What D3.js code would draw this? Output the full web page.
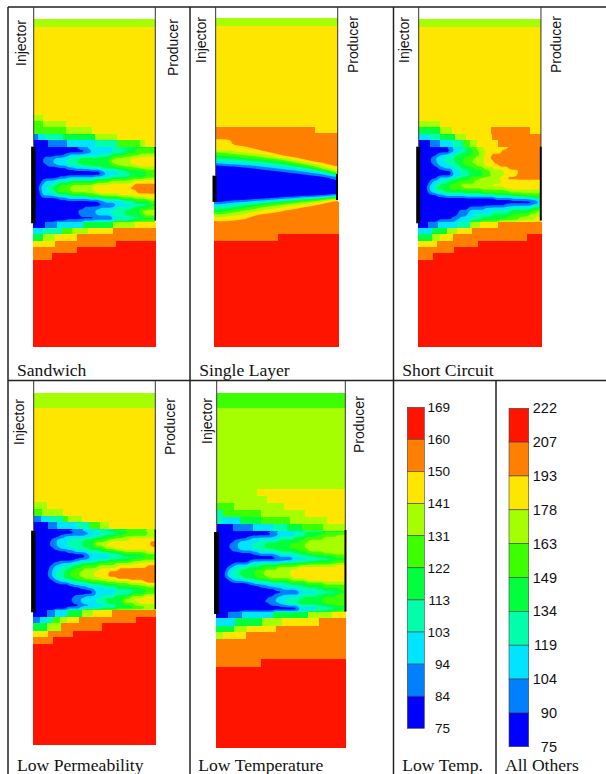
<!DOCTYPE html>
<html>
<head>
<meta charset="utf-8">
<title>Temperature maps</title>
<script src="https://cdn.jsdelivr.net/npm/d3@7/dist/d3.min.js"></script>
<style>
body {margin: 0; background: #fff;}
svg {display: block;}
.caption {font-family: "Liberation Serif", serif; font-size: 17.6px; fill: #111;}
.well-name {font-family: "Liberation Sans", sans-serif; font-size: 14px; fill: #111;}
.tick text {font-family: "Liberation Sans", sans-serif; fill: #111;}
</style>
</head>
<body>
<svg id="canvas" width="606" height="774"></svg>
<script>
// colour band index: 0 is coldest, 9 is hottest
var band_colors = ['#0000ff', '#0080ff', '#00e5ff', '#00ffaa', '#00ff3c', '#3cff00', '#a5ff00', '#ffe600', '#ff8000', '#ff1400'];
var low_temp_ticks = ['169', '160', '150', '141', '131', '122', '113', '103', '94', '84', '75'];
var all_others_ticks = ['222', '207', '193', '178', '163', '149', '134', '119', '104', '90', '75'];

// rows: "depth band endDistance band endDistance ..."
var sandwich_rows = [
    '58 6 469', '80 7 469',
    '345 6 130 7 469',
    '362 5 130 6 198 7 469',
    '382 5 130 5 198 6 275 7 469',
    '402 1 115 2 135 3 190 4 285 6 350 7 469',
    '420 0 145 1 200 2 285 3 350 5 420 6 435 7 469',
    '440 0 235 1 265 2 345 3 395 4 469',
    '450 0 255 1 275 2 335 3 375 4 405 5 469',
    '460 0 190 1 205 2 300 3 335 4 370 5 420 6 469',
    '470 0 130 1 165 2 205 3 240 4 325 5 345 6 395 7 469',
    '480 0 128 1 158 2 195 3 230 4 330 6 390 7 469',
    '490 0 140 1 170 2 205 3 245 4 335 5 350 6 400 7 469',
    '500 0 200 1 225 2 270 3 305 4 370 5 415 6 469',
    '510 0 300 1 315 2 350 3 380 4 435 5 469',
    '520 0 305 1 320 2 385 3 435 4 469',
    '530 0 175 1 200 2 280 3 335 4 380 5 430 6 469',
    '540 0 125 1 135 2 165 3 210 4 290 5 330 6 400 7 469',
    '550 0 118 1 125 2 148 3 175 5 215 6 280 7 400 8 469',
    '560 0 115 1 122 2 135 3 158 5 205 6 275 7 388 8 469',
    '570 0 118 1 126 2 145 3 170 5 215 6 285 7 410 8 469',
    '580 0 125 2 165 3 205 4 260 5 300 6 360 7 469',
    '590 0 175 1 200 2 265 3 310 4 360 5 400 6 440 7 469',
    '600 0 295 1 315 2 370 3 405 4 445 5 469',
    '610 0 340 1 350 2 405 3 445 4 469',
    '620 0 250 1 300 2 345 3 395 4 440 5 469',
    '630 0 232 1 285 2 330 3 370 4 420 6 469',
    '640 0 240 1 290 2 335 3 380 4 430 6 469',
    '650 0 335 1 342 2 390 3 425 4 469',
    '660 0 200 1 280 2 340 3 400 4 469',
    '665 0 135 1 170 2 250 4 340 6 405 7 469',
    '684 2 130 3 185 5 215 6 265 7 340 8 469',
    '703 4 130 6 165 7 230 8 469',
    '722 7 165 8 348 9 469',
    '741 8 230 9 469',
    '760 8 155 9 469',
    '780 9 469'
];

var single_layer_rows = [
    '55 6 446', '78 7 446',
    '380 8 375 7 446',
    '398 8 446',
    '607 8 446',
    '703 8 263 9 446',
    '722 9 446'
];

// this one runs nearly level, so it is read column by column: "endDistance band endDepth ..."
var single_layer_columns = [
    '100 7 450 6 458 5 466 4 475 3 483 2 490 1 497 0 606 1 612 2 620 3 628 4 636 5 643 6 652 7 663',
    '125 7 452 6 460 5 468 4 477 3 485 2 492 1 499 0 604 1 610 2 617 3 624 4 632 5 640 6 650 7 664',
    '150 8 437 7 453 6 462 5 470 4 478 3 486 2 493 1 500 0 602 1 608 2 614 3 621 4 629 5 637 6 647 7 662',
    '175 8 440 7 456 6 465 5 472 4 480 3 488 2 495 1 502 0 600 1 606 2 611 3 617 4 624 5 632 6 642 7 658',
    '200 8 446 7 459 6 468 5 475 4 483 3 490 2 497 1 505 0 598 1 603 2 608 3 613 4 619 5 627 6 636 7 648',
    '225 8 452 7 463 6 471 5 478 4 485 3 492 2 500 1 508 0 597 1 601 2 606 3 610 4 615 5 623 6 632 7 644',
    '250 8 458 7 467 6 474 5 481 4 488 3 495 2 503 1 510 0 596 1 600 2 604 3 608 4 612 5 620 6 629 7 640',
    '275 8 463 7 471 6 478 5 484 4 491 3 498 2 505 1 513 0 595 1 598 2 602 3 605 4 609 5 616 6 625 7 636',
    '300 8 468 7 475 6 482 5 488 4 494 3 501 2 508 1 516 0 593 1 596 2 600 3 603 4 606 5 612 6 620 7 631',
    '325 8 473 7 480 6 487 5 492 4 498 3 504 2 511 1 519 0 592 1 595 2 598 3 601 4 604 5 610 6 617 7 627',
    '350 8 478 7 485 6 492 5 497 4 502 3 508 2 515 1 523 0 590 1 593 2 596 3 599 4 602 5 607 6 613 7 623',
    '375 8 483 7 491 6 498 5 502 4 506 3 512 2 518 1 526 0 589 1 592 2 595 3 597 4 600 5 604 6 610 7 618',
    '400 8 488 7 497 6 504 5 508 4 511 3 516 2 521 1 529 0 588 1 590 2 593 3 595 4 598 5 601 6 606 7 613',
    '425 8 493 7 505 6 511 5 514 4 517 3 520 2 525 1 532 0 586 1 588 2 591 3 593 4 595 5 598 6 601 7 607',
    '446 8 498 7 515 6 519 5 522 4 524 3 526 2 530 1 540 0 584 1 586 2 588 3 590 4 592 5 594 6 597 7 602'
];

var short_circuit_rows = [
    '58 6 442', '80 7 442',
    '362 6 135 7 442',
    '382 4 135 6 170 7 287 8 405 7 442',
    '401 2 105 3 135 4 180 6 212 7 290 8 442',
    '420 0 105 1 135 2 175 3 205 5 225 6 245 7 310 8 442',
    '440 0 160 1 175 2 205 3 225 5 245 6 265 7 340 8 442',
    '450 0 165 1 175 2 190 3 210 4 235 5 250 6 272 7 320 8 442',
    '460 0 125 1 135 2 160 3 185 4 225 5 255 6 270 7 290 8 442',
    '470 0 108 1 120 2 145 3 175 4 205 5 240 6 265 7 285 8 442',
    '480 0 106 1 125 2 150 3 180 4 200 5 230 6 265 7 295 8 442',
    '490 0 115 1 130 2 165 3 190 4 215 5 245 6 270 7 310 8 442',
    '500 0 130 1 145 2 180 3 200 4 235 5 265 6 295 7 340 8 442',
    '510 0 170 2 195 3 220 4 260 5 285 6 325 7 372 8 442',
    '520 0 170 1 178 2 200 3 225 4 268 5 290 6 325 7 365 8 442',
    '530 0 125 1 130 2 165 3 195 4 225 5 255 6 310 7 335 8 442',
    '540 0 105 1 112 2 135 3 160 4 185 5 240 6 320 7 442',
    '550 0 98 1 105 2 120 3 135 4 160 5 195 6 290 7 442',
    '560 0 94 1 100 2 112 3 125 4 165 5 205 6 330 7 442',
    '570 0 98 1 106 2 122 3 145 4 260 5 345 6 442',
    '580 0 125 1 150 2 210 3 300 4 380 5 442',
    '590 0 300 1 350 2 400 3 420 4 442',
    '600 0 425 1 432 2 442',
    '610 0 330 1 410 2 430 3 442',
    '620 0 220 1 270 2 350 3 410 4 442',
    '630 0 190 1 220 2 290 3 340 4 400 5 425 6 442',
    '640 0 185 1 215 2 240 3 290 4 350 5 400 6 442',
    '650 0 170 1 195 2 230 3 260 4 330 5 370 6 420 7 442',
    '660 0 130 1 185 2 225 3 255 4 310 5 370 6 420 7 442',
    '665 0 98 1 130 2 185 3 225 6 255 7 310 8 442',
    '684 2 110 4 155 6 185 7 230 8 442',
    '703 4 110 6 135 7 175 8 395 9 442',
    '722 7 125 8 248 9 442',
    '741 8 178 9 442',
    '760 8 113 9 442',
    '780 9 442'
];

var low_perm_rows = [
    '40 6 469', '85 7 469',
    '367 6 140 7 469',
    '387 5 125 6 190 7 469',
    '407 1 122 2 150 3 190 5 205 6 245 7 469',
    '427 0 145 1 170 2 230 3 270 5 300 6 328 7 469',
    '447 0 215 1 250 2 300 3 340 4 380 5 440 6 469',
    '456 0 255 1 270 2 320 3 365 4 440 6 469',
    '465 0 180 1 195 2 275 3 300 4 345 5 370 6 469',
    '474 0 155 1 170 2 210 3 255 4 310 5 330 6 390 7 469',
    '483 0 150 1 170 2 200 3 245 4 285 6 325 7 450 8 469',
    '492 0 150 1 170 2 200 3 245 4 280 6 315 7 452 8 469',
    '501 0 160 1 180 2 220 3 260 4 310 6 345 7 469',
    '510 0 200 1 225 2 265 3 300 4 350 5 370 6 440 7 469',
    '519 0 250 1 265 2 325 3 365 4 430 5 469',
    '528 0 260 1 272 2 350 3 395 4 469',
    '537 0 225 1 240 2 280 3 320 4 390 5 425 6 469',
    '546 0 160 1 180 2 215 3 245 4 295 5 345 6 400 7 469',
    '555 0 150 1 165 2 190 3 215 4 245 5 290 6 350 7 440 8 469',
    '564 0 145 1 158 2 175 3 200 4 220 5 250 6 300 7 355 8 469',
    '573 0 143 1 155 2 170 3 190 4 210 5 240 6 280 7 325 8 469',
    '582 0 143 1 155 2 168 3 190 4 210 5 235 6 280 7 322 8 469',
    '591 0 148 1 160 2 178 3 195 4 220 5 250 6 300 7 350 8 469',
    '600 0 165 1 180 2 205 3 235 4 270 5 320 6 385 7 430 8 469',
    '609 0 205 1 220 2 265 3 300 4 350 5 390 6 440 7 469',
    '618 0 240 1 260 2 310 3 350 4 420 5 469',
    '627 0 275 1 285 2 350 3 400 4 440 5 469',
    '636 0 280 1 290 2 345 3 395 4 435 5 469',
    '645 0 220 1 255 2 305 3 345 4 390 6 430 7 469',
    '654 0 212 1 240 2 285 3 315 4 365 6 400 7 469',
    '663 0 218 1 245 2 290 3 320 4 370 6 420 7 469',
    '672 0 240 1 270 2 315 3 350 4 400 6 469',
    '681 0 200 1 240 2 300 3 350 4 430 5 469',
    '690 0 140 1 165 2 200 4 245 6 280 7 335 8 469',
    '710 1 120 2 140 3 160 5 180 6 200 7 238 8 408 9 469',
    '730 4 140 6 182 8 305 9 469',
    '752 7 145 8 218 9 469',
    '770 8 160 9 469',
    '792 9 469'
];

var low_temp_rows = [
    '40 5 469', '84 6 469',
    '328 6 200 7 469',
    '348 6 230 7 469',
    '368 5 133 6 282 7 469',
    '390 3 100 5 212 6 345 7 469',
    '410 3 95 2 150 4 212 5 300 6 410 7 469',
    '432 0 128 1 188 2 250 3 290 4 335 5 400 6 469',
    '452 0 240 1 265 2 345 3 400 4 469',
    '461 0 245 1 262 2 310 3 345 4 380 5 440 6 469',
    '470 0 170 1 185 2 270 3 310 4 345 5 400 6 469',
    '479 0 130 1 150 2 210 3 260 4 330 5 355 6 469',
    '488 0 118 1 142 2 185 3 225 4 300 5 345 6 469',
    '497 0 117 1 143 2 185 3 225 4 300 5 345 6 469',
    '506 0 125 1 150 2 205 3 255 4 325 5 355 6 469',
    '515 0 185 1 205 2 270 3 310 4 350 5 400 6 469',
    '524 0 250 1 265 2 325 3 370 4 430 5 469',
    '533 0 305 1 312 2 380 3 430 4 469',
    '542 0 175 1 185 2 280 3 350 4 420 5 469',
    '551 0 125 1 135 2 175 3 210 4 260 5 330 6 440 7 469',
    '560 0 110 1 118 2 140 3 170 4 215 5 260 6 320 7 469',
    '569 0 106 1 112 2 128 3 150 4 195 5 225 6 300 7 469',
    '578 0 104 1 110 2 125 3 148 4 190 5 218 6 300 7 469',
    '587 0 108 1 114 2 135 3 160 4 200 5 230 6 310 7 469',
    '596 0 118 1 128 2 160 3 195 4 240 5 300 6 350 7 469',
    '605 0 175 1 190 2 245 3 300 4 350 5 400 6 469',
    '614 0 210 1 230 2 285 3 340 4 400 5 469',
    '623 0 255 1 275 2 320 3 380 4 450 5 469',
    '632 0 325 1 332 2 400 3 440 4 469',
    '641 0 250 1 275 2 325 3 380 4 440 5 469',
    '650 0 232 1 260 2 295 3 340 4 400 5 469',
    '659 0 222 1 255 2 280 3 320 4 390 5 469',
    '668 0 240 1 270 2 290 3 330 4 410 5 469',
    '677 0 320 1 325 2 380 3 430 4 469',
    '686 0 325 1 330 2 400 3 440 4 469',
    '695 0 113 1 155 2 250 4 355 6 425 7 469',
    '715 2 135 4 215 6 277 7 387 8 469',
    '737 4 133 6 170 7 258 8 469',
    '757 6 100 7 167 8 469',
    '778 8 469',
    '838 8 212 9 469',
    '860 9 469'
];

// perforated intervals [top, bottom] of injector and producer
var sandwich_wells = [[440, 670], [440, 662]];
var single_layer_wells = [[527, 606], [522, 600]];
var short_circuit_wells = [[440, 670], [440, 662]];
var low_perm_wells = [[452, 697], [448, 688]];
var low_temp_wells = [[456, 702], [450, 695]];

var panels = [
    {name: 'Sandwich', rows: sandwich_rows, wells: sandwich_wells, x: [32.7, 156.3], y: [19.3, 347.3], x_domain: [98, 469], y_domain: [58, 1042],
     line_x: [101, 466], narrow_to: 665, smooth: [443, 665], blur: [1, 1.2], inj_x: [100, 4.5], prod_x: [466, 1.5], top: 7, name_x: 17, name_y: 376, inj: [25.5, 66], prod: [177.5, 76]},
    {name: 'Single Layer', rows: single_layer_rows, columns: single_layer_columns, wells: single_layer_wells, x: [214, 338.7], y: [18.3, 347.3], x_domain: [72, 446], y_domain: [55, 1042],
     line_x: [77, 443], narrow_to: 607, smooth: [418, 695], blur: [4, 0.6], inj_x: [73.5, 4], prod_x: [441, 2], top: 7, name_x: 199.3, name_y: 376, inj: [205.7, 63], prod: [357.7, 73]},
    {name: 'Short Circuit', rows: short_circuit_rows, wells: short_circuit_wells, x: [417.7, 542.3], y: [19.3, 347.3], x_domain: [68, 442], y_domain: [58, 1042],
     line_x: [71, 438], narrow_to: 665, smooth: [443, 665], blur: [1, 1.2], inj_x: [69.5, 4], prod_x: [437.5, 2], top: 7, name_x: 402.3, name_y: 376, inj: [409.3, 63], prod: [560.7, 73]},
    {name: 'Low Permeability', rows: low_perm_rows, wells: low_perm_wells, x: [32.7, 156.3], y: [393.3, 745], x_domain: [98, 469], y_domain: [40, 1095],
     line_x: [101, 466], narrow_to: 690, smooth: [450, 690], blur: [1, 1.2], inj_x: [100, 4.5], prod_x: [466, 1.5], top: 381, name_x: 17, name_y: 770.5, inj: [24, 445], prod: [175, 455]},
    {name: 'Low Temperature', rows: low_temp_rows, wells: low_temp_wells, x: [215.7, 346.3], y: [393.3, 748], x_domain: [77, 469], y_domain: [40, 1104],
     line_x: [80, 466], narrow_to: 695, smooth: [455, 695], blur: [1, 1.2], inj_x: [79.5, 5], prod_x: [466.5, 2], top: 381, name_x: 198.3, name_y: 770.5, inj: [211.7, 444], prod: [364, 453]}
];

draw_all();

function draw_all(){
    var canvas = d3.select('#canvas');
    draw_frame(canvas);
    panels.forEach(function(p, i){ draw_panel(canvas, p, i); });
    draw_legend(canvas, low_temp_ticks, [407.3, 424.3], [407.3, 728.3], 450, 13.5);
    draw_legend(canvas, all_others_ticks, [509, 528.7], [408.3, 746.7], 557, 14.5);
    add_caption(canvas, 'Low Temp.', 402.3, 770.5);
    add_caption(canvas, 'All Others', 505, 770.5);
}

function draw_frame(canvas){
    var rules = [[8, 7, 606, 7], [8, 380.5, 606, 380.5], [8, 7, 8, 774], [190, 7, 190, 774], [393.5, 7, 393.5, 774], [496, 380.5, 496, 774]];
    canvas.append('g').selectAll('line').data(rules).join('line')
        .attr('x1', function(d){return d[0]})
        .attr('y1', function(d){return d[1]})
        .attr('x2', function(d){return d[2]})
        .attr('y2', function(d){return d[3]})
        .attr('stroke', '#222')
        .attr('stroke-width', 1.5);
}

function parse_rows(rows, end_depth, x_start){
    var cells = [];
    rows.forEach(function(row, i){
        var parts = row.split(' ').map(Number);
        var y1 = i < rows.length - 1 ? +rows[i + 1].split(' ')[0] : end_depth;
        var x0 = x_start;
        for (var j = 1; j < parts.length; j += 2){
            cells.push({x0: x0, x1: parts[j + 1], y0: parts[0], y1: y1, band: parts[j]});
            x0 = parts[j + 1];
        }
    });
    return cells;
}

function parse_columns(columns, start_depth, x_start){
    var cells = [];
    var x0 = x_start;
    columns.forEach(function(col){
        var parts = col.split(' ').map(Number);
        var y0 = start_depth;
        for (var j = 1; j < parts.length; j += 2){
            cells.push({x0: x0, x1: parts[0], y0: y0, y1: parts[j + 1], band: parts[j]});
            y0 = parts[j + 1];
        }
        x0 = parts[0];
    });
    return cells;
}

function draw_panel(canvas, p, index){
    var x_scale = d3.scaleLinear().domain(p.x_domain).range(p.x);
    var y_scale = d3.scaleLinear().domain(p.y_domain).range(p.y);
    var color = d3.scaleOrdinal().domain(d3.range(10)).range(band_colors);

    var cells = parse_rows(p.rows, p.y_domain[1], p.x_domain[0]);
    if (p.columns) cells = cells.concat(parse_columns(p.columns, 418, p.x_domain[0]));

    var g = canvas.append('g');
    var cut = function(c){
        // above the well bottoms the grid stops at the well lines
        return c.y1 <= p.narrow_to
            ? {x0: Math.max(c.x0, p.line_x[0]), x1: Math.min(c.x1, p.line_x[1]), y0: c.y0, y1: c.y1, band: c.band}
            : c;
    };
    g.append('g').selectAll('rect').data(cells.map(cut)).join('rect')
        .attr('x', function(d){return x_scale(d.x0)})
        .attr('y', function(d){return y_scale(d.y0)})
        .attr('width', function(d){return Math.max(0, x_scale(d.x1) - x_scale(d.x0))})
        .attr('height', function(d){return y_scale(d.y1) - y_scale(d.y0)})
        .attr('fill', function(d){return color(d.band)})
        .attr('shape-rendering', 'crispEdges');

    draw_isobands(canvas, g, p, cells, x_scale, y_scale, color, index);

    // well lines run from the frame down to the grid
    g.append('g').selectAll('line').data(p.line_x).join('line')
        .attr('x1', function(d){return x_scale(d)})
        .attr('x2', function(d){return x_scale(d)})
        .attr('y1', p.top)
        .attr('y2', function(d, i){return y_scale(p.wells[i][0])})
        .attr('stroke', '#333')
        .attr('stroke-width', 1);

    // thick perforated part
    var perf = [p.inj_x, p.prod_x];
    g.append('g').selectAll('line').data(p.wells).join('line')
        .attr('x1', function(d, i){return x_scale(perf[i][0])})
        .attr('x2', function(d, i){return x_scale(perf[i][0])})
        .attr('y1', function(d){return y_scale(d[0])})
        .attr('y2', function(d){return y_scale(d[1])})
        .attr('stroke', '#000')
        .attr('stroke-width', function(d, i){return perf[i][1]});

    add_well_name(canvas, 'Injector', p.inj);
    add_well_name(canvas, 'Producer', p.prod);
    add_caption(canvas, p.name, p.name_x, p.name_y);
}

// the fingers between the wells are smooth in the picture, so the read cells
// go on a fine grid and d3.contours draws the band edges
function draw_isobands(canvas, g, p, cells, x_scale, y_scale, color, index){
    var step = 3;
    var pad = 4 * step;
    var x0 = p.line_x[0] - pad;
    var y0 = p.smooth[0] - pad;
    var nx = Math.ceil((p.line_x[1] + pad - x0) / step);
    var ny = Math.ceil((p.smooth[1] + pad - y0) / step);
    var values = new Float64Array(nx * ny);

    cells.forEach(function(c){
        for (var j = 0; j < ny; j++){
            var yc = y0 + (j + 0.5) * step;
            if (yc < c.y0 || yc >= c.y1) continue;
            for (var i = 0; i < nx; i++){
                var xc = x0 + (i + 0.5) * step;
                xc = Math.max(p.line_x[0] + 0.5, Math.min(p.line_x[1] - 0.5, xc));
                if (xc >= c.x0 && xc < c.x1) values[j * nx + i] = c.band;
            }
        }
    });

    d3.blur2({data: values, width: nx, height: ny}, p.blur[0], p.blur[1]);

    var contours = d3.contours().size([nx, ny]).thresholds(d3.range(0.5, 9, 1))(values);
    var to_screen = d3.geoTransform({point: function(x, y){
        this.stream.point(x_scale(x0 + x * step), y_scale(y0 + y * step));
    }});
    var path = d3.geoPath(to_screen);

    // whole pixels, so the clip edge does not let the base colour through
    var clip_x = Math.round(x_scale(p.line_x[0]));
    var clip_y = Math.round(y_scale(p.smooth[0]));
    var clip_w = Math.round(x_scale(p.line_x[1])) - clip_x;
    var clip_h = Math.round(y_scale(p.smooth[1])) - clip_y;
    var clip_id = 'smooth-' + index;
    canvas.append('clipPath').attr('id', clip_id).append('rect')
        .attr('x', clip_x).attr('y', clip_y).attr('width', clip_w).attr('height', clip_h)
        .attr('shape-rendering', 'crispEdges');

    var layer = g.append('g').attr('clip-path', 'url(#' + clip_id + ')');
    layer.append('rect')
        .attr('x', clip_x).attr('y', clip_y).attr('width', clip_w).attr('height', clip_h)
        .attr('fill', color(0));
    layer.selectAll('path').data(contours).join('path')
        .attr('d', path)
        .attr('fill', function(d, i){return color(i + 1)});
}

function add_well_name(canvas, text, pos){
    canvas.append('text')
        .attr('class', 'well-name')
        .attr('transform', 'translate(' + pos[0] + ', ' + pos[1] + ') rotate(-90)')
        .text(text);
}

function add_caption(canvas, text, x, y){
    canvas.append('text')
        .attr('class', 'caption')
        .attr('x', x)
        .attr('y', y)
        .text(text);
}

function draw_legend(canvas, ticks, x_range, y_range, label_right, font_size){
    var bands = d3.scaleBand().domain(d3.range(9, -1, -1)).range(y_range);
    var g = canvas.append('g');

    g.selectAll('rect').data(bands.domain()).join('rect')
        .attr('x', x_range[0])
        .attr('y', function(d){return bands(d)})
        .attr('width', x_range[1] - x_range[0])
        .attr('height', bands.bandwidth())
        .attr('fill', function(d){return band_colors[d]})
        .attr('stroke', '#444')
        .attr('stroke-width', 0.6);

    var tick_scale = d3.scalePoint().domain(ticks).range(y_range);
    var axis = g.append('g')
        .attr('transform', 'translate(' + label_right + ', 0)')
        .call(d3.axisRight(tick_scale).tickSize(0).tickPadding(0));
    axis.select('.domain').remove();
    axis.selectAll('text').attr('text-anchor', 'end').style('font-size', font_size + 'px');
}
</script>
</body>
</html>
